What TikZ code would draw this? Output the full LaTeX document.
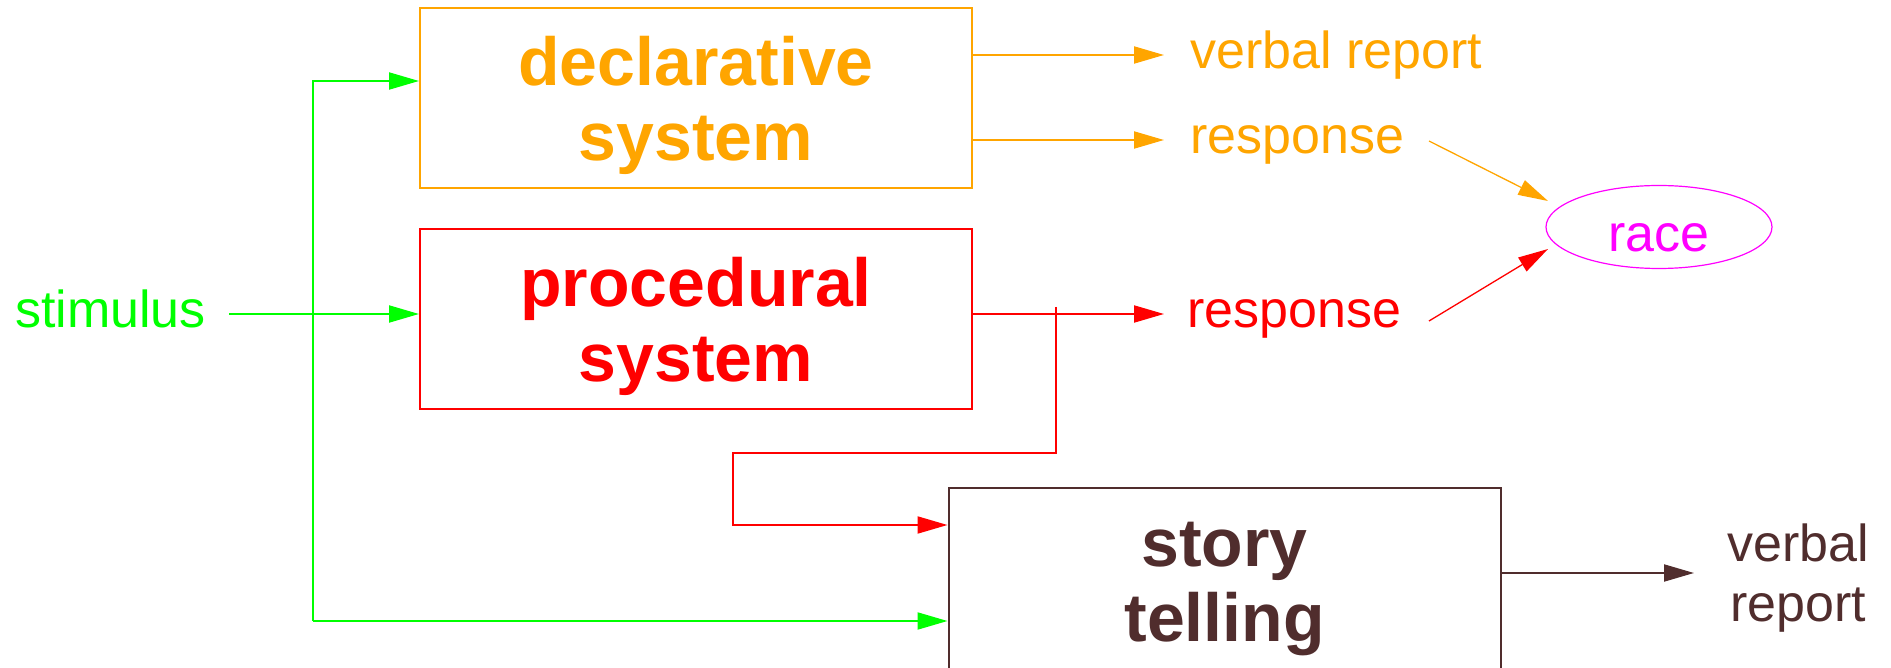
\documentclass[tikz,border=0pt]{standalone}
\usepackage{fontspec}
\setmainfont{Liberation Sans}
\usetikzlibrary{arrows.meta,shapes.geometric}
\definecolor{cgreen}{RGB}{0,255,0}
\definecolor{corange}{RGB}{255,165,0}
\definecolor{cred}{RGB}{255,0,0}
\definecolor{cmag}{RGB}{255,0,255}
\definecolor{cbrown}{RGB}{80,45,45}
\newcommand{\fl}{\rule{0pt}{64pt}}
\newcommand{\flb}{\rule{0pt}{60pt}}
\tikzset{
  sysbox/.style={draw,line width=2pt,minimum width=552pt,minimum height=180pt,
    inner sep=0pt,align=center,font=\fontsize{68}{75}\selectfont\bfseries},
  lbl/.style={font=\fontsize{52}{60}\selectfont,inner sep=0pt},
  arr/.style={line width=2pt,-{Triangle[length=30pt,width=17pt]}},
  tarr/.style={line width=1.3pt,-{Triangle[length=30pt,width=16pt]}},
  wire/.style={line width=2pt}
}
\begin{document}
\begin{tikzpicture}[x=1pt,y=-1pt]
\useasboundingbox (0,0) rectangle (1891,668);
\clip (0,0) rectangle (1891,668);

% boxes
\node[sysbox,draw=corange,text=corange] (D) at (696,98) {\fl declarative\\system};
\node[sysbox,draw=cred,text=cred] (P) at (696,319) {\fl procedural\\system};
\node[sysbox,draw=cbrown,text=cbrown,minimum height=186pt] (S) at (1224.5,581) {\flb story\\telling};

% labels
\node[lbl,text=cgreen,anchor=base west] (stim) at (15,328) {stimulus};
\node[lbl,text=corange,anchor=base west] (vr1) at (1190,69) {verbal report};
\node[lbl,text=corange,anchor=base west] (r1) at (1190,154) {response};
\node[lbl,text=cred,anchor=base west] (r2) at (1187,328) {response};
\node[lbl,text=cbrown,align=center] (vr2) at (1798,578.5) {verbal\\report};
\node[lbl,draw=cmag,line width=1.2pt,text=cmag,ellipse,minimum width=226pt,
  minimum height=83pt,text height=50pt,text depth=0pt] (race) at (1659,227) {race};

% coordinates
\coordinate (s0) at (229,314);
\coordinate (gt) at (313,81);
\coordinate (gb) at (313,621);
\coordinate (a1) at (1164,55);
\coordinate (a2) at (1164,140);
\coordinate (a3) at (1164,314);
\coordinate (b0) at (1056,307);
\coordinate (b1) at (1056,453);
\coordinate (b2) at (733,453);
\coordinate (b3) at (733,525);
\coordinate (o1) at (1429,141);
\coordinate (o2) at (1548,201);
\coordinate (q1) at (1429,321);
\coordinate (q2) at (1548,249);
\coordinate (so) at (1694,573);

% green stimulus connectors
\draw[arr,cgreen] (s0) -- (s0 -| P.west);
\draw[arr,cgreen] (gb) -- (gt) -- (gt -| D.west);
\draw[arr,cgreen] (gt |- gb) -- (gb -| S.west);

% declarative outputs
\draw[arr,corange] (a1 -| D.east) -- (a1);
\draw[arr,corange] (a2 -| D.east) -- (a2);

% procedural outputs
\draw[arr,cred] (a3 -| P.east) -- (a3);
\draw[arr,cred] (b0) -- (b1) -- (b2) -- (b3) -- (b3 -| S.west);

% race
\draw[tarr,corange] (o1) -- (o2);
\draw[tarr,cred] (q1) -- (q2);

% story output
\draw[arr,cbrown] (so -| S.east) -- (so);
\end{tikzpicture}
\end{document}
